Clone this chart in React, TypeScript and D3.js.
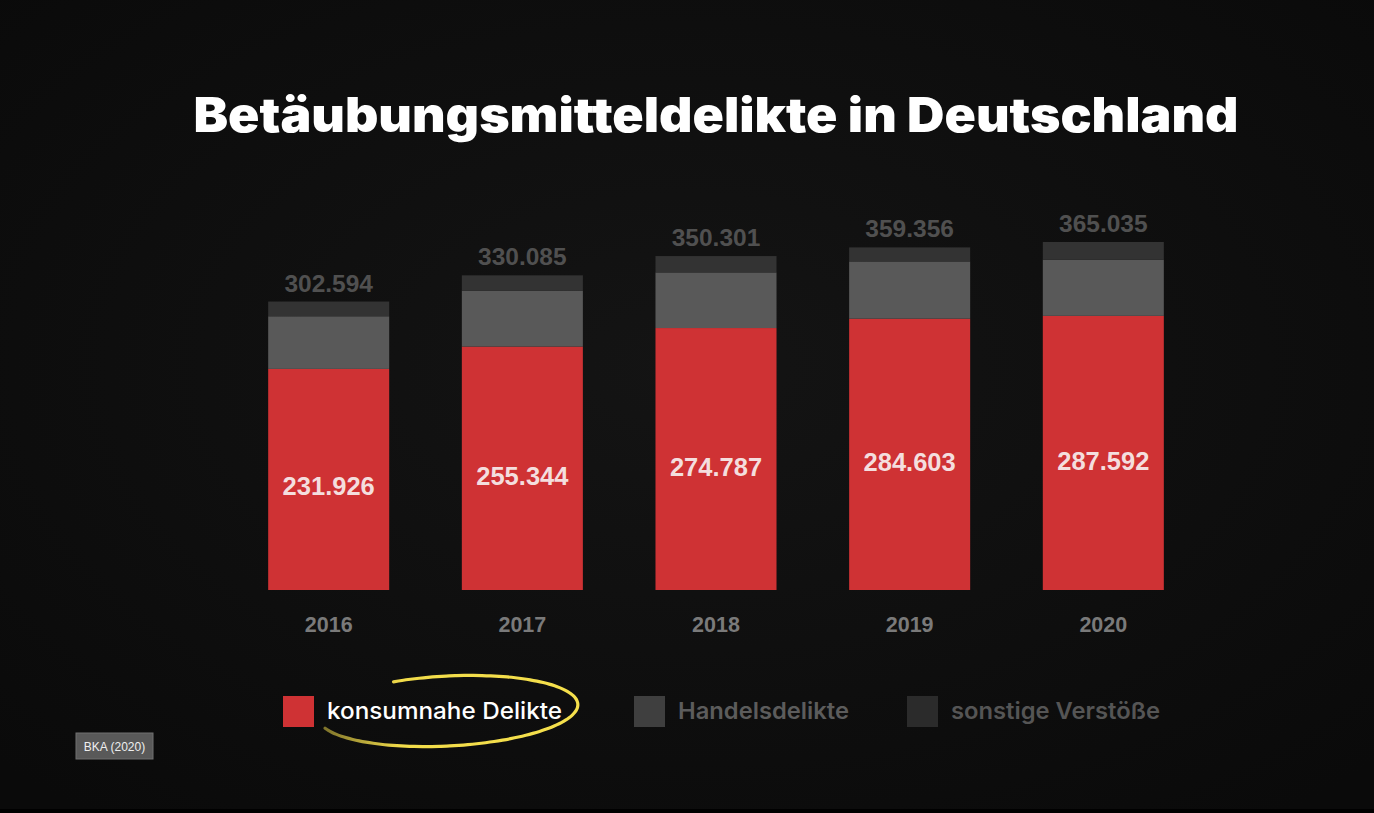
import React from "react";
import * as d3 from "d3";

const years = ["2016", "2017", "2018", "2019", "2020"];
const konsumnahe = [231926, 255344, 274787, 284603, 287592];
const handel = [55210, 58644, 58353, 60030, 58900];
const sonstige = [15458, 16097, 17161, 14723, 18543];
const totals = [302594, 330085, 350301, 359356, 365035];
const seriesKeys = ["konsumnahe", "handel", "sonstige"];
const seriesLabels = ["konsumnahe Delikte", "Handelsdelikte", "sonstige Verstöße"];
const seriesColors = ["#cf3234", "#595959", "#333333"];
const legendTextColors = ["#ffffff", "#5c5c5c", "#555555"];

const W = 1374;
const H = 813;
const fmt = (v: number) => d3.format(",")(v).replace(/,/g, ".");

export default function App() {
  const rows = years.map((y, i) => ({
    year: y,
    konsumnahe: konsumnahe[i],
    handel: handel[i],
    sonstige: sonstige[i],
    total: totals[i],
  }));
  const stack = d3.stack<any>().keys(seriesKeys)(rows);
  const x = d3.scaleBand().domain(years).range([243, 1189]).paddingInner(0.375).paddingOuter(0.13);
  const y = d3.scaleLinear().domain([0, 365035]).range([590, 242]);
  const bw = x.bandwidth();

  // highlight ellipse (decorative)
  const cx = 448, cy = 711, rx = 130, ry = 35, rot = (-3 * Math.PI) / 180;
  const angs = d3.range(162, -118, -4).map((a) => (a * Math.PI) / 180);
  const pts: [number, number][] = angs.map((a) => {
    const px = rx * Math.cos(a), py = ry * Math.sin(a);
    return [cx + px * Math.cos(rot) - py * Math.sin(rot), cy + px * Math.sin(rot) + py * Math.cos(rot)];
  });
  const ell = d3.line().curve(d3.curveCatmullRom)(pts) || "";

  const legendX = [283, 634, 907];
  const legendW = [235, 171, 209];

  return (
    <svg width={W} height={H} style={{ position: "absolute", left: 0, top: 0, display: "block" }}>
      <defs>
        <radialGradient id="bg" cx="50%" cy="45%" r="70%">
          <stop offset="0%" stopColor="#141414" />
          <stop offset="100%" stopColor="#0a0a0a" />
        </radialGradient>
        <linearGradient id="yel" x1="0" x2="1" y1="0" y2="0">
          <stop offset="0%" stopColor="#f2dc4a" stopOpacity={0.5} />
          <stop offset="30%" stopColor="#f2dc4a" />
          <stop offset="100%" stopColor="#f5e04c" />
        </linearGradient>
      </defs>
      <rect width={W} height={H} fill="url(#bg)" />
      <rect y={809} width={W} height={4} fill="#000" />
      <text
        x={716}
        y={132}
        textAnchor="middle"
        fill="#ffffff"
        fontFamily="Inter, 'Liberation Sans', sans-serif"
        fontWeight={900}
        fontSize={48}
        textLength={1045}
        lengthAdjust="spacingAndGlyphs"
      >
        Betäubungsmitteldelikte in Deutschland
      </text>
      {stack.map((s, si) =>
        s.map((d, i) => (
          <rect
            key={si + "-" + i}
            x={x(years[i])}
            y={y(d[1])}
            width={bw}
            height={y(d[0]) - y(d[1])}
            fill={seriesColors[si]}
          />
        ))
      )}
      {rows.map((r, i) => (
        <g key={r.year} fontFamily="'Liberation Sans', Arial, sans-serif" fontWeight={700} textAnchor="middle">
          <text x={(x(r.year) || 0) + bw / 2} y={y(r.total) - 10} fill="#505050" fontSize={24.5}>
            {fmt(r.total)}
          </text>
          <text
            x={(x(r.year) || 0) + bw / 2}
            y={y(r.konsumnahe) + 0.53 * (y(0) - y(r.konsumnahe)) + 9}
            fill="#f4dede"
            fontSize={25.5}
          >
            {fmt(r.konsumnahe)}
          </text>
          <text x={(x(r.year) || 0) + bw / 2} y={632} fill="#7a7a7a" fontSize={21.5}>
            {r.year}
          </text>
        </g>
      ))}
      {seriesLabels.map((l, i) => (
        <g key={l}>
          <rect x={legendX[i]} y={696} width={31} height={31} fill={i === 0 ? "#cf3234" : i === 1 ? "#3f3f3f" : "#2b2b2b"} />
          <text
            x={legendX[i] + 44}
            y={719}
            fill={legendTextColors[i]}
            fontFamily="Inter, 'Liberation Sans', Arial, sans-serif"
            fontWeight={i === 0 ? 500 : 600}
            fontSize={23}
            textLength={legendW[i]}
            lengthAdjust="spacingAndGlyphs"
          >
            {l}
          </text>
        </g>
      ))}
      <path d={ell} fill="none" stroke="url(#yel)" strokeWidth={3.2} strokeLinecap="round" />
      <rect x={76} y={733} width={77} height={26} fill="#595959" stroke="#707070" strokeWidth={1} />
      <text x={114.5} y={750.5} textAnchor="middle" fill="#eeeeee" fontFamily="'Liberation Sans', Arial, sans-serif" fontSize={12}>
        BKA (2020)
      </text>
    </svg>
  );
}
